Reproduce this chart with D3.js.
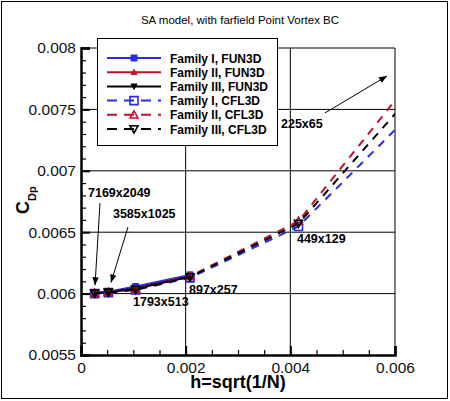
<!DOCTYPE html>
<html>
<head>
<meta charset="utf-8">
<script src="https://cdn.jsdelivr.net/npm/d3@7/dist/d3.min.js"></script>
<style>
  body { margin: 0; background: #fff; }
  svg { display: block; font-family: "Liberation Sans", Arial, Helvetica, sans-serif; }
</style>
</head>
<body>
<svg id="chart" width="450" height="401"></svg>
<script>
// h = sqrt(1/N) for each grid, finest first
const grids = ["7169x2049", "3585x1025", "1793x513", "897x257", "449x129", "225x65"];
const hValues = [0.0002609, 0.0005217, 0.0010427, 0.0020828, 0.0041550, 0.0082690];

// C_Dp
const fun3dI   = [0.006005, 0.006016, 0.006058, 0.006152];
const fun3dII  = [0.006002, 0.006010, 0.006040, 0.006140];
const fun3dIII = [0.006002, 0.006011, 0.006042, 0.006138];
const cfl3dI   = [0.006000, 0.006008, 0.006030, 0.006128, 0.006547, 0.008300];
const cfl3dII  = [0.006003, 0.006012, 0.006035, 0.006140, 0.006590, 0.008780];
const cfl3dIII = [0.006002, 0.006010, 0.006033, 0.006135, 0.006570, 0.008560];

const xTicks = [0, 0.002, 0.004, 0.006];
const xTickLabels = ["0", "0.002", "0.004", "0.006"];
const yTicks = [0.0055, 0.006, 0.0065, 0.007, 0.0075, 0.008];
const yTickLabels = ["0.0055", "0.006", "0.0065", "0.007", "0.0075", "0.008"];

// grid-name annotations: text position and optional arrow, in data units
const notes = [
  { text: "7169x2049", tx: 0.000134, ty: 0.006787, from: [0.000363, 0.006738], to: [0.000268, 0.006068] },
  { text: "3585x1025", tx: 0.000611, ty: 0.006616, from: [0.000898, 0.006542], to: [0.000573, 0.006090] },
  { text: "1793x513",  tx: 0.000994, ty: 0.005899 },
  { text: "897x257",   tx: 0.002064, ty: 0.005995 },
  { text: "449x129",   tx: 0.004127, ty: 0.006412 },
  { text: "225x65",    tx: 0.003822, ty: 0.007349, from: [0.004662, 0.007471], to: [0.005847, 0.007772] }
];

const blue = "#2a2ae6", red = "#c4102c", black = "#000";

const series = [
  { name: "Family I, FUN3D",   vals: fun3dI,   color: blue,  sym: "square",   fill: true,  dash: null },
  { name: "Family II, FUN3D",  vals: fun3dII,  color: red,   sym: "triUp",    fill: true,  dash: null },
  { name: "Family III, FUN3D", vals: fun3dIII, color: black, sym: "triDown",  fill: true,  dash: null },
  { name: "Family I, CFL3D",   vals: cfl3dI,   color: blue,  sym: "square",   fill: false, dash: "8,7" },
  { name: "Family II, CFL3D",  vals: cfl3dII,  color: red,   sym: "triUp",    fill: false, dash: "8,7" },
  { name: "Family III, CFL3D", vals: cfl3dIII, color: black, sym: "triDown",  fill: false, dash: "8,7" }
];

const svg = d3.select("#chart");
const pLeft = 81, pRight = 395, pTop = 48, pBottom = 355;

const x = d3.scaleLinear().domain([0, 0.006]).range([pLeft, pRight]);
const y = d3.scaleLinear().domain([0.0055, 0.008]).range([pBottom, pTop]);

// outer frame
svg.append("rect").attr("x", 1.5).attr("y", 1.5).attr("width", 446).attr("height", 397)
  .attr("fill", "none").attr("stroke", "#000").attr("stroke-width", 1);

// title
svg.append("text").attr("x", 240).attr("y", 24).attr("text-anchor", "middle")
  .style("font-size", "11.5px").text("SA model, with farfield Point Vortex BC");

// grid lines
const grid = svg.append("g").attr("stroke", "#000").attr("stroke-width", 1);
xTicks.slice(1, -1).forEach(t => {
  grid.append("line").attr("x1", x(t)).attr("x2", x(t)).attr("y1", pTop).attr("y2", pBottom);
});
yTicks.slice(1, -1).forEach(t => {
  grid.append("line").attr("x1", pLeft).attr("x2", pRight).attr("y1", y(t)).attr("y2", y(t));
});
// top and right border
grid.append("line").attr("x1", pLeft).attr("x2", pRight).attr("y1", pTop).attr("y2", pTop);
grid.append("line").attr("x1", pRight).attr("x2", pRight).attr("y1", pTop).attr("y2", pBottom);

// minor ticks
const xMinor = d3.range(0.0005, 0.006, 0.0005);
const yMinor = d3.range(0.0056, 0.008, 0.0001);
svg.append("g").attr("transform", `translate(0,${pBottom})`)
  .call(d3.axisBottom(x).tickValues(xMinor).tickSize(-5).tickFormat(""))
  .call(g => g.select(".domain").remove())
  .call(g => g.selectAll("line").attr("stroke-width", 1.2));
svg.append("g").attr("transform", `translate(${pLeft},0)`)
  .call(d3.axisLeft(y).tickValues(yMinor).tickSize(-5).tickFormat(""))
  .call(g => g.select(".domain").remove())
  .call(g => g.selectAll("line").attr("stroke-width", 1.2));

// major axes
const xAxis = svg.append("g").attr("transform", `translate(0,${pBottom})`)
  .call(d3.axisBottom(x).tickValues(xTicks).tickSize(-9).tickPadding(7)
    .tickFormat((d, i) => xTickLabels[i]));
const yAxis = svg.append("g").attr("transform", `translate(${pLeft},0)`)
  .call(d3.axisLeft(y).tickValues(yTicks).tickSize(-9).tickPadding(5)
    .tickFormat((d, i) => yTickLabels[i]));
[xAxis, yAxis].forEach(a => {
  a.select(".domain").attr("stroke-width", 2.5);
  a.selectAll(".tick line").attr("stroke-width", 2);
  a.selectAll("text").style("font-size", "15.5px").style("font-family", "Liberation Sans, Arial, sans-serif")
    .attr("fill", "#111");
});

// axis titles
svg.append("text").attr("x", 238).attr("y", 388).attr("text-anchor", "middle")
  .style("font-size", "18px").style("font-weight", "bold").text("h=sqrt(1/N)");
const yl = svg.append("text").attr("transform", "translate(29,214) rotate(-90)")
  .style("font-weight", "bold");
yl.append("tspan").style("font-size", "18px").text("C");
yl.append("tspan").style("font-size", "11px").attr("dy", 7).text("Dp");

// data
svg.append("clipPath").attr("id", "plotclip").append("rect")
  .attr("x", pLeft).attr("y", pTop).attr("width", pRight - pLeft).attr("height", pBottom - pTop);
const plot = svg.append("g").attr("clip-path", "url(#plotclip)");

function symbolPath(sym, size) {
  const s = size / 2;
  if (sym === "square") return `M${-s},${-s}H${s}V${s}H${-s}Z`;
  if (sym === "triUp") return `M0,${-s}L${s},${s * 0.8}L${-s},${s * 0.8}Z`;
  return `M0,${s}L${s},${-s * 0.8}L${-s},${-s * 0.8}Z`;
}

function drawMarker(g, d, px, py) {
  const size = d.fill ? 6 : 8;
  g.append("path").attr("d", symbolPath(d.sym, size))
    .attr("transform", `translate(${px},${py})`)
    .attr("fill", d.fill ? d.color : "none")
    .attr("stroke", d.color).attr("stroke-width", d.fill ? 1 : 1.6);
}

const line = d3.line().x(p => x(p[0])).y(p => y(p[1]));

series.forEach(s => {
  const pts = s.vals.map((v, i) => [hValues[i], v]);
  plot.append("path").datum(pts).attr("d", line)
    .attr("fill", "none").attr("stroke", s.color).attr("stroke-width", 2)
    .attr("stroke-dasharray", s.dash);
  pts.forEach(p => drawMarker(plot, s, x(p[0]), y(p[1])));
});

// annotations
svg.append("defs").append("marker").attr("id", "arrow")
  .attr("viewBox", "0 0 10 10").attr("refX", 10).attr("refY", 5)
  .attr("markerWidth", 10).attr("markerHeight", 8).attr("markerUnits", "userSpaceOnUse")
  .attr("orient", "auto")
  .append("path").attr("d", "M0,1L10,5L0,9Z").attr("fill", "#000");

notes.forEach(n => {
  svg.append("text").attr("x", x(n.tx)).attr("y", y(n.ty))
    .style("font-size", "12.5px").style("font-weight", "bold").text(n.text);
  if (n.from) {
    svg.append("line")
      .attr("x1", x(n.from[0])).attr("y1", y(n.from[1]))
      .attr("x2", x(n.to[0])).attr("y2", y(n.to[1]))
      .attr("stroke", "#000").attr("stroke-width", 1)
      .attr("marker-end", "url(#arrow)");
  }
});

// legend
const lg = svg.append("g");
lg.append("rect").attr("x", 97.5).attr("y", 38.5).attr("width", 180).attr("height", 107)
  .attr("fill", "#fff").attr("stroke", "#000").attr("stroke-width", 1);
series.forEach((s, i) => {
  const ly = 58 + i * 14.2;
  lg.append("line").attr("x1", 107).attr("x2", 161).attr("y1", ly).attr("y2", ly)
    .attr("stroke", s.color).attr("stroke-width", 2)
    .attr("stroke-dasharray", s.dash ? "10,7" : null);
  drawMarker(lg, s, 134, ly);
  lg.append("text").attr("x", 170).attr("y", ly + 4.5)
    .style("font-size", "12px").style("font-weight", "bold").text(s.name);
});
</script>
</body>
</html>
